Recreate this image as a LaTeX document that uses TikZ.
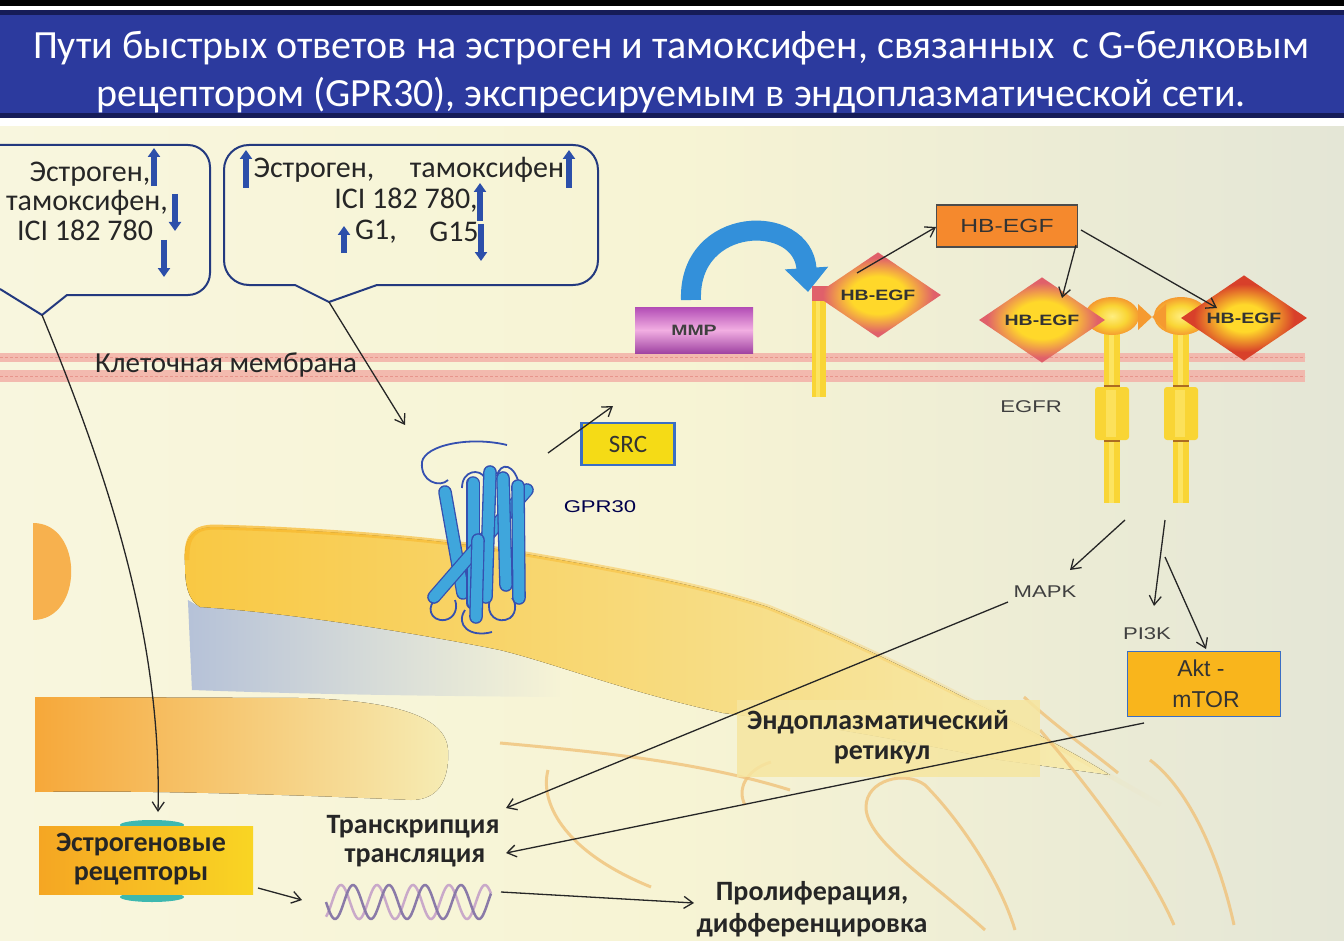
\documentclass[tikz,border=0pt]{standalone}
\usepackage{fontspec}
\usepackage{graphicx}
\setmainfont{Carlito}
\newfontfamily\arialf{Liberation Sans}
\usetikzlibrary{arrows.meta,shapes.geometric,calc,fadings}
\definecolor{bgL}{HTML}{F8F6DE}
\definecolor{bgM}{HTML}{F7F4D4}
\definecolor{bgR}{HTML}{E4E6D6}
\definecolor{titleblue}{HTML}{2C3A9E}
\definecolor{titledark}{HTML}{161C58}
\definecolor{navy}{HTML}{23397F}
\definecolor{barrow}{HTML}{2C4FAA}
\definecolor{memb}{HTML}{F3B4AA}
\definecolor{membD}{HTML}{E8958C}
\definecolor{mmpP}{HTML}{B24CB5}
\definecolor{mmpL}{HTML}{F2AEE2}
\definecolor{arcblue}{HTML}{3390DA}
\definecolor{hbor}{HTML}{F5892D}
\definecolor{hbY}{HTML}{FFD82A}
\definecolor{hbR}{HTML}{E0606A}
\definecolor{hbR2}{HTML}{D8402A}
\definecolor{egfy}{HTML}{F9D535}
\definecolor{egfL}{HTML}{FFEE80}
\definecolor{egfO}{HTML}{F59A30}
\definecolor{srcy}{HTML}{F5DB16}
\definecolor{srcb}{HTML}{3A6EC5}
\definecolor{aktor}{HTML}{F9B51C}
\definecolor{gprb}{HTML}{3FA6DC}
\definecolor{gprd}{HTML}{3550B0}
\definecolor{erO}{HTML}{F6A83A}
\definecolor{erY}{HTML}{F9C843}
\definecolor{erPale}{HTML}{F6ECB4}
\definecolor{erGrey}{HTML}{B6C2D8}
\definecolor{erLine}{HTML}{F0C27A}
\definecolor{lblbg}{HTML}{F6E6A0}
\definecolor{tealc}{HTML}{3DB8B0}
\definecolor{erecO}{HTML}{F5A623}
\definecolor{erecY}{HTML}{F9D523}
\definecolor{dnaA}{HTML}{8A7AA8}
\definecolor{dnaB}{HTML}{C9A9C9}
\pgfdeclareradialshading{hbshade}{\pgfpoint{0bp}{0bp}}{color(0bp)=(hbY); color(11bp)=(hbY); color(22bp)=(hbR); color(50bp)=(hbR)}
\pgfdeclareradialshading{hbshadeB}{\pgfpoint{0bp}{0bp}}{color(0bp)=(hbY); color(8bp)=(hbY); color(20bp)=(hbR2); color(50bp)=(hbR2)}
\pgfdeclareradialshading{blobshade}{\pgfpoint{0bp}{0bp}}{color(0bp)=(egfL); color(14bp)=(egfy); color(25bp)=(egfO); color(50bp)=(egfO)}
\newcommand{\hs}[1]{\scalebox{1.3}[1]{#1}}
\begin{document}
\begin{tikzpicture}[x=1pt,y=-1pt,
  titletext/.style={text=white, font=\fontsize{40}{46}\selectfont, inner sep=0},
  boxtxt/.style={font=\fontsize{30}{34}\selectfont, text=black!85, inner sep=0},
  boldtxt/.style={font=\bfseries\fontsize{28}{32}\selectfont, text=black!85, inner sep=0},
  smalllbl/.style={font=\arialf\fontsize{17}{20}\selectfont, text=black!75, inner sep=0},
  callout/.style={draw=navy, line width=2pt, line join=round},
  barr/.style={draw=barrow, line width=5.5pt, -{Triangle[width=12pt,length=9pt]}},
  conn/.style={draw=black!85, line width=1.3pt, -{Straight Barb[length=9pt,width=12pt,line width=1.3pt]}},
  hbdia/.style={diamond, minimum width=126pt, minimum height=40pt, inner sep=0, shading=hbshade, font=\arialf\bfseries\fontsize{15}{18}\selectfont, text=black!80},
  gcyl/.style={draw=gprd, double=gprb, double distance=11pt, line width=1.3pt, line cap=round},
  gloop/.style={draw=gprd, line width=1.8pt},
  erl/.style={draw=erLine, line width=3pt, opacity=0.8}]
\useasboundingbox (0,0) rectangle (1344,952);
% background
\fill[left color=bgL, right color=bgR, middle color=bgM] (0,0) rectangle (1344,952);
\fill[white] (0,0) rectangle (1344,126);
\fill[black] (0,0) rectangle (1344,6);
% title band
\fill[titleblue] (0,10) rectangle (1344,118);
\fill[titledark] (0,10) rectangle (1344,15);
\fill[titledark] (0,113) rectangle (1344,118);
\node[titletext] (t1) at (671,48) {Пути быстрых ответов на эстроген и тамоксифен, связанных\ \ с G-белковым};
\node[titletext] (t2) at (671,95) {рецептором (GPR30), экспресируемым в эндоплазматической сети.};
% ---------- endoplasmic reticulum ----------
\fill[erO!90!white] (33,523) .. controls (84,523) and (84,620) .. (33,620) -- cycle;
% lower band (finger)
\fill[left color=erO, right color=erPale] (35,697) -- (300,698) .. controls (380,700) and (446,712) .. (448,750) .. controls (450,790) and (430,800) .. (411,800) .. controls (300,795) and (150,790) .. (35,792) -- cycle;
% grey face
\fill[erGrey, path fading=east] (188,600) -- (192,690) .. controls (300,694) and (420,696) .. (560,697) -- (560,660) .. controls (420,632) and (280,612) .. (200,607) -- cycle;
% upper band
\fill[left color=erY, right color=erPale] (185,565) .. controls (183,535) and (195,527) .. (215,527) .. controls (330,530) and (450,540) .. (520,553) .. controls (620,570) and (700,585) .. (768,607) .. controls (850,640) and (920,675) .. (969,700) .. controls (1020,725) and (1070,750) .. (1110,775) -- (1000,760) .. controls (900,740) and (820,725) .. (723,713) .. controls (620,690) and (560,665) .. (500,650) .. controls (400,630) and (280,612) .. (200,607) .. controls (188,600) and (185,585) .. (185,565) -- cycle;
\draw[draw=erO!80!yellow, line width=5pt, opacity=0.8, path fading=east] (187,560) .. controls (186,535) and (195,527) .. (215,527) .. controls (330,530) and (450,540) .. (520,553) .. controls (620,570) and (700,585) .. (768,607) .. controls (850,640) and (920,675) .. (969,700) .. controls (1030,730) and (1100,770) .. (1161,805);
% ER outlines
\draw[erl] (500,743) .. controls (600,752) and (700,762) .. (790,790);
\draw[erl] (548,770) .. controls (540,800) and (560,850) .. (651,887);
\draw[erl] (771,762) .. controls (745,770) and (737,790) .. (745,805);
\draw[erl] (985,930) .. controls (930,880) and (866,840) .. (866,807) .. controls (866,780) and (905,770) .. (925,785) .. controls (960,820) and (1000,880) .. (1015,930);
\draw[erl] (1040,730) .. controls (1100,800) and (1150,870) .. (1174,925);
\draw[erl] (1150,760) .. controls (1190,790) and (1220,860) .. (1234,925);
\draw[erl] (1024,697) .. controls (1060,730) and (1090,750) .. (1118,773);
% label background
\fill[lblbg, opacity=0.85] (737,700) rectangle (1040,777);
% ---------- membrane ----------
\fill[memb, opacity=0.9] (0,353) rectangle (1305,362);
\fill[memb, opacity=0.9] (0,370) rectangle (1305,382);
\draw[membD, line width=1pt, dash pattern=on 3pt off 2pt] (0,357.5) -- (1305,357.5);
\draw[membD, line width=1pt, dash pattern=on 3pt off 2pt] (0,376) -- (1305,376);
\node[boxtxt, font=\fontsize{29}{33}\selectfont, anchor=west] (memlbl) at (95,365) {Клеточная мембрана};
% ---------- callouts ----------
\draw[callout] (0,145) -- (188,145) .. controls (200,145) and (210,155) .. (210,167) -- (210,273) .. controls (210,285) and (200,295) .. (188,295) -- (67,295) -- (42,315) -- (0,289);
\draw[callout] (249,145) -- (573,145) .. controls (587,145) and (598,156) .. (598,170) -- (598,260) .. controls (598,274) and (587,285) .. (573,285) -- (377,285) -- (329,302) -- (295,285) -- (249,285) .. controls (235,285) and (224,274) .. (224,260) -- (224,170) .. controls (224,156) and (235,145) .. (249,145) -- cycle;
\coordinate (p1) at (42,315);
\coordinate (p2) at (329,302);
\node[boxtxt] (c1a) at (90,174) {Эстроген,};
\node[boxtxt] (c1b) at (87,203) {тамоксифен,};
\node[boxtxt] (c1c) at (85,230) {ICI 182 780};
\draw[barr] (154,186) -- (154,148);
\draw[barr] (175,194) -- (175,231);
\draw[barr] (164,240) -- (164,277);
\node[boxtxt] (c2a) at (314,170) {Эстроген,};
\node[boxtxt] (c2b) at (487,170) {тамоксифен};
\node[boxtxt] (c2c) at (406,200) {ICI 182 780,};
\node[boxtxt] (c2d) at (376,232) {G1,};
\node[boxtxt] (c2e) at (454,232) {G15};
\draw[barr] (246,188) -- (246,150);
\draw[barr] (569,188) -- (569,150);
\draw[barr] (480,221) -- (480,183);
\draw[barr] (344,253) -- (344,226);
\draw[barr] (481,224) -- (481,261);
% ---------- MMP and arc ----------
\node[rectangle, minimum width=118pt, minimum height=46pt, inner sep=0, top color=mmpP, bottom color=mmpP!90!black, middle color=mmpL, font=\arialf\bfseries\fontsize{15}{18}\selectfont, text=black!75] (mmp) at (694,330) {\hs{MMP}};
\coordinate (arcA) at (691,300);
\coordinate (arcB) at (808,292);
\draw[arcblue, line width=20pt, -{Triangle[width=42pt,length=24pt]}] (arcA) .. controls (688,215) and (803,212) .. (arcB);
% stick with HB-EGF
\fill[egfy] (812,292) rectangle (826,397);
\fill[egfL, opacity=0.6] (816,300) rectangle (820,397);
\fill[hbR] (812,286) rectangle (830,301);
\node[hbdia] (d1) at (878,295) {\hs{HB-EGF}};
% HB-EGF box
\node[rectangle, minimum width=141pt, minimum height=42pt, inner sep=0, fill=hbor, draw=black!70, line width=1.5pt, font=\arialf\fontsize{19}{22}\selectfont, text=black!80] (hb) at (1007,226) {\hs{HB-EGF}};
% EGFR receptors
\foreach \cx in {1112,1181}{
  \fill[egfy] ({\cx-8},330) rectangle ({\cx+8},503);
  \fill[egfL, opacity=0.6] ({\cx-3},330) rectangle ({\cx+2},503);
  \fill[egfy, rounded corners=3] ({\cx-17},387) rectangle ({\cx+17},440);
  \fill[egfL, opacity=0.5] ({\cx-6},390) rectangle ({\cx+4},437);
  \draw[egfO!70!black, line width=1.5pt] ({\cx-8},386) -- ({\cx+8},386) ({\cx-8},441) -- ({\cx+8},441);
  \shade[shading=blobshade] (\cx,316) ellipse (27 and 19);
}
\fill[egfO] (1138,304) -- (1166,330) -- (1166,304) -- (1138,330) -- cycle;
\node[hbdia] (d2) at (1042,320) {\hs{HB-EGF}};
\node[hbdia, shading=hbshadeB] (d3) at (1244,318) {\hs{HB-EGF}};
\node[smalllbl] (egfr) at (1031,407) {\hs{EGFR}};
% ---------- GPR30 ----------
\draw[gloop] (507,445) .. controls (470,436) and (425,445) .. (422,462) .. controls (420,482) and (440,488) .. (448,480);
\draw[gloop] (462,488) .. controls (462,470) and (480,468) .. (485,478);
\draw[gloop] (497,476) .. controls (500,462) and (515,462) .. (520,488);
\draw[gloop] (438,598) .. controls (425,605) and (430,622) .. (445,620) .. controls (455,618) and (458,608) .. (455,600);
\draw[gloop] (465,610) .. controls (455,625) and (470,638) .. (492,632);
\draw[gloop] (490,600) .. controls (485,615) and (498,625) .. (510,618) .. controls (518,612) and (515,600) .. (512,598);
\draw[gcyl] (445,492) -- (463,593);
\draw[gcyl] (473,483) -- (473,603);
\draw[gcyl] (527,490) -- (434,597);
\draw[gcyl] (490,472) -- (486,597);
\draw[gcyl] (503,478) -- (506,585);
\draw[gcyl] (518,486) -- (519,598);
\draw[gcyl] (478,540) -- (476,617);
\coordinate (gprin) at (405,425);
\coordinate (gprout) at (548,453);
\node[smalllbl, text=black!70!blue] (gprlbl) at (600,507) {\hs{GPR30}};
% SRC
\node[rectangle, minimum width=93pt, minimum height=42pt, inner sep=0, fill=srcy, draw=srcb, line width=2.5pt, font=\fontsize{25}{28}\selectfont, text=black!80] (src) at (628,444) {SRC};
\coordinate (srcin) at (613,406);
% ---------- lower labels ----------
\node[smalllbl] (mapk) at (1045,592) {\hs{MAPK}};
\node[smalllbl] (pi3k) at (1147,634) {\hs{PI3K}};
\node[rectangle, minimum width=153pt, minimum height=65pt, inner sep=0, fill=aktor, draw=srcb, line width=1.5pt] (akt) at (1204,684) {};
\node[font=\arialf\fontsize{23}{26}\selectfont, text=black!80, inner sep=0] (akt1) at (1201,668) {Akt -};
\node[font=\arialf\fontsize{23}{26}\selectfont, text=black!80, inner sep=0] (akt2) at (1206,700) {mTOR};
\node[boldtxt] (er1) at (878,722) {Эндоплазматический};
\node[boldtxt] (er2) at (882,755) {ретикул};
\node[boldtxt] (tr1) at (413,827) {Транскрипция};
\node[boldtxt] (tr2) at (415,858) {трансляция};
\fill[tealc] (152,825) ellipse (32 and 5);
\fill[tealc] (152,897) ellipse (32 and 5);
\node[rectangle, minimum width=214pt, minimum height=68pt, inner sep=0, left color=erecO, right color=erecY] (erec) at (146,860) {};
\node[boldtxt] (erec1) at (141,845) {Эстрогеновые};
\node[boldtxt] (erec2) at (141,876) {рецепторы};
\node[inner sep=0, minimum width=172pt, minimum height=44pt] (dna) at (411,902) {};
\draw[dnaB, line width=2.5pt, domain=0:165, samples=120, smooth] plot ({326+\x},{902+17*sin(\x*10+120)});
\draw[dnaA, line width=2.5pt, domain=0:165, samples=120, smooth] plot ({326+\x},{902+17*sin(\x*10)});
\node[boldtxt] (pr1) at (812,893) {Пролиферация,};
\node[boldtxt] (pr2) at (812,925) {дифференцировка};
% ---------- connectors ----------
\coordinate (erecin) at (158,812);
\draw[conn] (p1) .. controls (110,480) and (162,640) .. (erecin);
\draw[conn] (p2) -- (gprin);
\draw[conn] (gprout) -- (srcin);
\coordinate (d1out) at (857,273);
\coordinate (hbin) at (936,227);
\draw[conn] (d1out) -- (hbin);
\coordinate (hbo1) at (1076,245);
\coordinate (d2in) at (1062,298);
\draw[conn] (hbo1) -- (d2in);
\coordinate (hbo2) at (1081,230);
\coordinate (d3in) at (1217,308);
\draw[conn] (hbo2) -- (d3in);
\coordinate (eg1) at (1125,520);
\coordinate (mapkin) at (1070,570);
\draw[conn] (eg1) -- (mapkin);
\coordinate (eg2) at (1165,520);
\coordinate (pi3kin) at (1154,606);
\draw[conn] (eg2) -- (pi3kin);
\coordinate (eg3) at (1165,557);
\coordinate (aktin) at (1206,649);
\draw[conn] (eg3) -- (aktin);
\coordinate (mapkout) at (1008,602);
\coordinate (trin1) at (506,808);
\draw[conn] (mapkout) -- (trin1);
\coordinate (aktout) at (1144,723);
\coordinate (trin2) at (506,853);
\draw[conn] (aktout) -- (trin2);
\coordinate (erecout) at (258,888);
\coordinate (dnain) at (302,900);
\draw[conn] (erecout) -- (dnain);
\coordinate (dnaout) at (501,892);
\coordinate (prin) at (694,903);
\draw[conn] (dnaout) -- (prin);
% bottom strip
\fill[white] (0,941) rectangle (1344,952);
\end{tikzpicture}
\end{document}
